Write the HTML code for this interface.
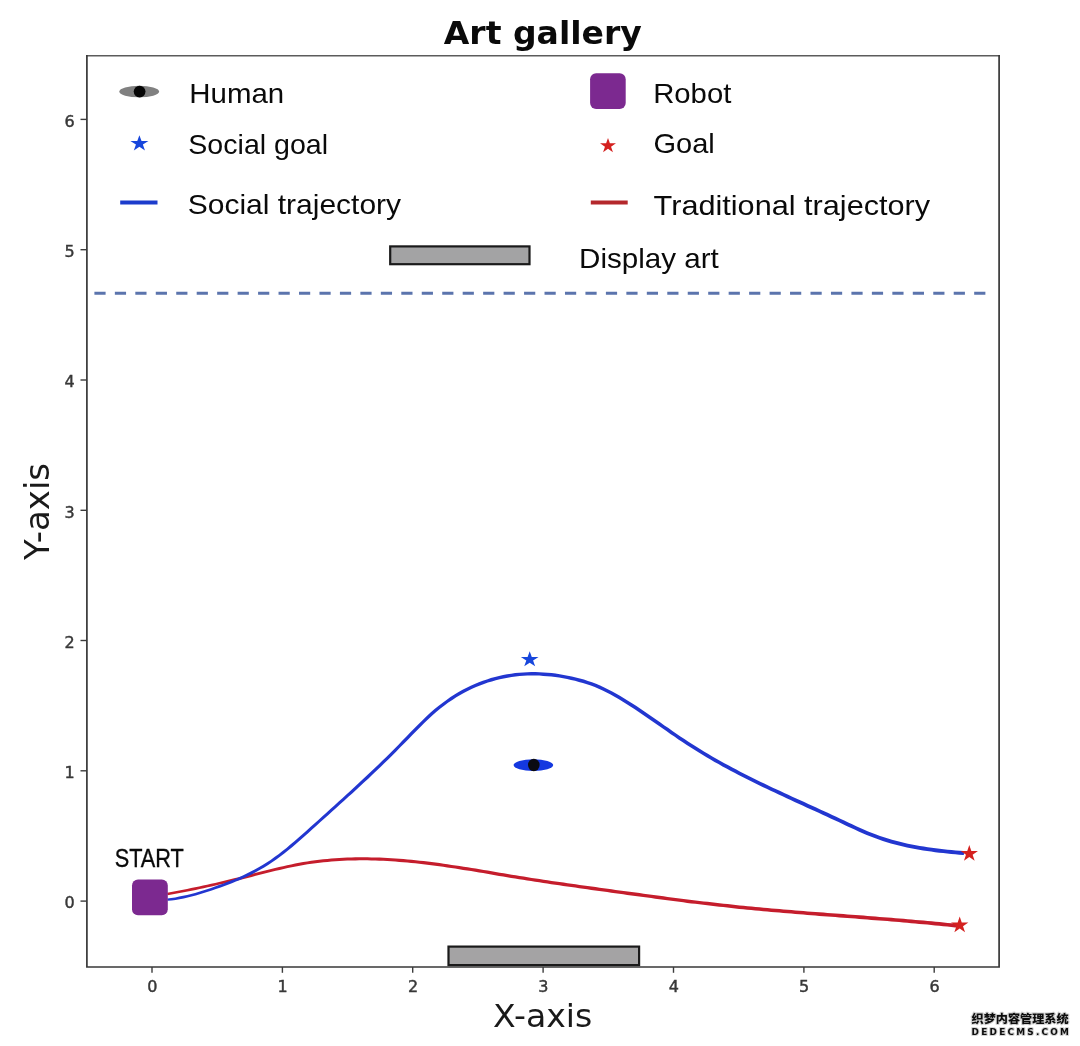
<!DOCTYPE html>
<html lang="en"><head><meta charset="utf-8"><title>Art gallery</title>
<style>
html,body{margin:0;padding:0;background:#fff;}
body{width:1080px;height:1046px;overflow:hidden;position:relative;}
svg{display:block;position:absolute;left:0;top:0;filter:blur(0.4px);}
.dv{font-family:"DejaVu Sans","Liberation Sans",sans-serif;}
.lb{font-family:"Liberation Sans","DejaVu Sans",sans-serif;}
.wm{font-family:"Liberation Sans","Noto Sans CJK SC","WenQuanYi Zen Hei",sans-serif;}
</style></head><body>
<svg width="1080" height="1046" viewBox="0 0 1080 1046">
<rect x="0" y="0" width="1080" height="1046" fill="#ffffff"/>
<text class="dv" x="443.8" y="44.4" font-size="32.5" font-weight="700" fill="#0a0a0a" textLength="198" lengthAdjust="spacingAndGlyphs">Art gallery</text>
<line x1="94.4" y1="293.2" x2="985.6" y2="293.2" stroke="#5b74ad" stroke-width="2.9" stroke-dasharray="11.2 9.26"/>
<rect x="390.2" y="246.4" width="139.3" height="17.8" fill="#a3a3a4" stroke="#1a1a1a" stroke-width="2.2"/>
<rect x="448.5" y="946.6" width="190.6" height="18.5" fill="#a4a3a4" stroke="#1a1a1a" stroke-width="2.2"/>
<path d="M167.6,895.2 L171.6,894.5 L175.6,893.8 L179.6,893.0 L183.7,892.3 L187.7,891.5 L191.7,890.7 L195.7,889.9 L199.7,889.0 L203.7,888.2 L207.7,887.3 L211.7,886.4 L215.7,885.5 L219.7,884.6 L223.7,883.7 L227.7,882.8 L231.7,881.8 L235.7,880.8 L239.7,879.9 L243.7,878.9 L247.7,877.9 L251.7,876.9 L255.8,875.8 L259.8,874.8 L263.8,873.8 L267.7,872.8 L271.7,871.8 L275.7,870.8 L279.7,869.9 L283.7,869.0 L287.7,868.1 L291.7,867.3 L295.7,866.5 L299.7,865.7 L303.6,865.0 L307.6,864.3 L311.6,863.7 L315.6,863.2 L319.6,862.7 L323.6,862.3 L327.5,861.9 L331.5,861.5 L335.5,861.2 L339.5,861.0 L343.5,860.7 L347.5,860.6 L351.4,860.4 L355.4,860.4 L359.4,860.3 L363.4,860.3 L367.4,860.3 L371.4,860.4 L375.4,860.5 L379.3,860.7 L383.3,860.8 L387.3,861.0 L391.3,861.3 L395.3,861.6 L399.3,861.9 L403.3,862.2 L407.3,862.5 L411.2,862.9 L415.2,863.3 L419.2,863.8 L423.2,864.2 L427.2,864.7 L431.2,865.2 L435.2,865.7 L439.2,866.3 L443.2,866.8 L447.2,867.4 L451.2,868.0 L455.2,868.6 L459.2,869.2 L463.1,869.9 L467.1,870.5 L471.1,871.1 L475.1,871.8 L479.1,872.5 L483.1,873.1 L487.1,873.8 L491.1,874.5 L495.1,875.2 L499.1,875.9 L503.1,876.5 L507.1,877.2 L511.1,877.9 L515.1,878.5 L519.1,879.2 L523.1,879.8 L527.1,880.5 L531.1,881.1 L535.1,881.7 L539.2,882.3 L543.2,883.0 L547.2,883.6 L551.2,884.2 L555.2,884.7 L559.2,885.3 L563.2,885.9 L567.2,886.5 L571.2,887.1 L575.2,887.6 L579.2,888.2 L583.2,888.8 L587.2,889.3 L591.2,889.9 L595.2,890.4 L599.2,891.0 L603.2,891.6 L607.2,892.1 L611.2,892.7 L615.2,893.2 L619.2,893.8 L623.2,894.3 L627.2,894.9 L631.2,895.4 L635.2,896.0 L639.2,896.5 L643.2,897.1 L647.2,897.6 L651.2,898.1 L655.2,898.7 L659.2,899.2 L663.2,899.7 L667.2,900.3 L671.2,900.8 L675.2,901.3 L679.2,901.8 L683.2,902.3 L687.2,902.9 L691.2,903.4 L695.2,903.8 L699.2,904.3 L703.2,904.8 L707.2,905.3 L711.2,905.8 L715.2,906.2 L719.2,906.7 L723.2,907.1 L727.2,907.6 L731.2,908.0 L735.2,908.4 L739.2,908.9 L743.2,909.3 L747.2,909.7 L751.2,910.1 L755.2,910.5 L759.2,910.8 L763.2,911.2 L767.2,911.6 L771.2,911.9 L775.2,912.3 L779.2,912.6 L783.3,913.0 L787.3,913.3 L791.3,913.6 L795.3,914.0 L799.3,914.3 L803.3,914.6 L807.3,914.9 L811.3,915.3 L815.3,915.6 L819.3,915.9 L823.3,916.2 L827.3,916.5 L831.3,916.8 L835.3,917.1 L839.3,917.4 L843.3,917.7 L847.3,918.0 L851.3,918.3 L855.3,918.6 L859.3,918.9 L863.3,919.2 L867.3,919.6 L871.3,919.9 L875.3,920.2 L879.3,920.5 L883.3,920.8 L887.3,921.1 L891.3,921.5 L895.3,921.8 L899.2,922.1 L903.2,922.5 L907.2,922.8 L911.2,923.2 L915.2,923.5 L919.2,923.9 L923.2,924.2 L927.2,924.6 L931.2,925.0 L935.2,925.4 L939.2,925.8 L943.2,926.2 L947.2,926.6 L951.2,927.0 L955.2,927.4 L956.8,927.6 L957.2,923.9 L955.6,923.7 L951.6,923.3 L947.6,922.9 L943.6,922.5 L939.6,922.1 L935.6,921.7 L931.6,921.3 L927.6,920.9 L923.6,920.6 L919.6,920.2 L915.6,919.9 L911.6,919.5 L907.6,919.2 L903.6,918.8 L899.6,918.5 L895.5,918.2 L891.5,917.8 L887.5,917.5 L883.5,917.2 L879.5,916.9 L875.5,916.6 L871.5,916.3 L867.5,915.9 L863.5,915.6 L859.5,915.3 L855.5,915.0 L851.5,914.7 L847.5,914.4 L843.5,914.1 L839.5,913.8 L835.5,913.5 L831.5,913.2 L827.5,912.9 L823.5,912.6 L819.5,912.3 L815.5,912.0 L811.5,911.7 L807.5,911.4 L803.5,911.1 L799.5,910.8 L795.5,910.4 L791.5,910.1 L787.5,909.8 L783.5,909.4 L779.6,909.1 L775.6,908.8 L771.6,908.4 L767.6,908.0 L763.6,907.7 L759.6,907.3 L755.6,906.9 L751.6,906.6 L747.6,906.2 L743.6,905.8 L739.6,905.4 L735.6,905.0 L731.6,904.5 L727.6,904.1 L723.6,903.7 L719.6,903.2 L715.6,902.8 L711.6,902.3 L707.6,901.8 L703.6,901.4 L699.6,900.9 L695.6,900.4 L691.6,899.9 L687.6,899.4 L683.6,898.9 L679.6,898.4 L675.6,897.9 L671.6,897.4 L667.6,896.9 L663.6,896.3 L659.6,895.8 L655.6,895.3 L651.6,894.8 L647.6,894.2 L643.6,893.7 L639.6,893.1 L635.6,892.6 L631.6,892.1 L627.6,891.5 L623.6,891.0 L619.6,890.4 L615.6,889.9 L611.6,889.3 L607.6,888.8 L603.6,888.2 L599.6,887.7 L595.6,887.1 L591.6,886.6 L587.6,886.0 L583.6,885.5 L579.6,884.9 L575.6,884.3 L571.6,883.8 L567.6,883.2 L563.6,882.6 L559.6,882.0 L555.6,881.5 L551.6,880.9 L547.6,880.3 L543.6,879.7 L539.6,879.1 L535.7,878.5 L531.7,877.9 L527.7,877.2 L523.7,876.6 L519.7,876.0 L515.7,875.3 L511.7,874.7 L507.7,874.0 L503.7,873.3 L499.7,872.7 L495.7,872.0 L491.7,871.3 L487.7,870.6 L483.7,870.0 L479.7,869.3 L475.7,868.6 L471.7,868.0 L467.7,867.3 L463.7,866.7 L459.6,866.1 L455.6,865.5 L451.6,864.9 L447.6,864.3 L443.6,863.7 L439.6,863.1 L435.6,862.6 L431.6,862.1 L427.6,861.6 L423.6,861.1 L419.6,860.7 L415.6,860.2 L411.6,859.8 L407.5,859.4 L403.5,859.1 L399.5,858.8 L395.5,858.5 L391.5,858.2 L387.5,858.0 L383.5,857.8 L379.5,857.6 L375.4,857.5 L371.4,857.4 L367.4,857.3 L363.4,857.3 L359.4,857.3 L355.4,857.3 L351.4,857.4 L347.3,857.6 L343.3,857.7 L339.3,857.9 L335.3,858.2 L331.3,858.5 L327.3,858.9 L323.2,859.3 L319.2,859.8 L315.2,860.3 L311.2,860.8 L307.2,861.4 L303.2,862.1 L299.1,862.8 L295.1,863.6 L291.1,864.4 L287.1,865.3 L283.1,866.2 L279.1,867.1 L275.1,868.0 L271.1,869.0 L267.1,870.0 L263.0,871.0 L259.0,872.1 L255.0,873.1 L251.1,874.1 L247.1,875.1 L243.1,876.2 L239.1,877.2 L235.1,878.1 L231.1,879.1 L227.1,880.1 L223.1,881.0 L219.1,882.0 L215.1,882.9 L211.1,883.8 L207.1,884.7 L203.1,885.5 L199.1,886.4 L195.1,887.3 L191.1,888.1 L187.1,888.9 L183.1,889.7 L179.2,890.5 L175.2,891.3 L171.2,892.1 L167.2,892.8Z" fill="#c51d2c"/>
<path d="M167.5,900.8 L171.6,900.4 L175.6,899.9 L179.6,899.2 L183.7,898.4 L187.7,897.5 L191.7,896.5 L195.8,895.4 L199.8,894.3 L203.8,893.1 L207.8,891.8 L211.8,890.5 L215.9,889.1 L219.9,887.7 L223.9,886.3 L227.9,884.8 L231.9,883.2 L235.9,881.6 L240.0,879.9 L244.0,878.1 L248.0,876.2 L252.1,874.2 L256.1,872.0 L260.1,869.8 L264.2,867.4 L268.2,864.9 L272.2,862.3 L276.3,859.5 L280.3,856.5 L284.3,853.4 L288.3,850.2 L292.4,846.9 L296.4,843.5 L300.4,840.0 L304.4,836.5 L308.4,832.9 L312.4,829.3 L316.4,825.7 L320.4,822.1 L324.4,818.5 L328.4,814.9 L332.4,811.3 L336.4,807.7 L340.4,804.1 L344.4,800.5 L348.4,796.8 L352.5,793.2 L356.5,789.5 L360.5,785.8 L364.5,782.1 L368.5,778.4 L372.5,774.6 L376.5,770.8 L380.5,766.9 L384.5,763.1 L388.5,759.2 L392.5,755.2 L396.5,751.2 L400.5,747.1 L404.6,743.1 L408.6,738.9 L412.6,734.8 L416.6,730.7 L420.6,726.7 L424.5,722.7 L428.5,718.9 L432.5,715.2 L436.5,711.8 L440.4,708.5 L444.4,705.5 L448.3,702.6 L452.3,699.9 L456.3,697.3 L460.2,695.0 L464.2,692.8 L468.1,690.7 L472.1,688.8 L476.1,687.0 L480.0,685.4 L484.0,683.9 L487.9,682.6 L491.9,681.4 L495.8,680.3 L499.8,679.3 L503.7,678.4 L507.7,677.7 L511.6,677.0 L515.6,676.5 L519.6,676.1 L523.5,675.8 L527.5,675.6 L531.4,675.5 L535.4,675.5 L539.3,675.6 L543.3,675.9 L547.2,676.2 L551.2,676.6 L555.2,677.1 L559.1,677.6 L563.1,678.3 L567.1,679.1 L571.0,679.9 L575.0,680.8 L578.9,681.9 L582.9,683.0 L586.9,684.2 L590.8,685.6 L594.8,687.1 L598.7,688.7 L602.6,690.5 L606.6,692.5 L610.6,694.6 L614.5,696.8 L618.5,699.1 L622.5,701.5 L626.5,703.9 L630.4,706.5 L634.4,709.1 L638.4,711.8 L642.4,714.5 L646.4,717.2 L650.4,719.9 L654.4,722.7 L658.4,725.5 L662.4,728.3 L666.4,731.1 L670.4,733.9 L674.4,736.6 L678.4,739.4 L682.4,742.1 L686.4,744.7 L690.4,747.3 L694.4,749.8 L698.4,752.3 L702.5,754.8 L706.5,757.2 L710.5,759.5 L714.5,761.9 L718.5,764.1 L722.5,766.4 L726.5,768.6 L730.5,770.7 L734.5,772.8 L738.6,774.9 L742.6,777.0 L746.6,779.0 L750.6,781.0 L754.6,783.0 L758.6,785.0 L762.6,786.9 L766.6,788.8 L770.6,790.7 L774.6,792.6 L778.6,794.5 L782.6,796.3 L786.6,798.2 L790.6,800.0 L794.6,801.9 L798.6,803.7 L802.6,805.5 L806.6,807.4 L810.6,809.2 L814.6,811.0 L818.6,812.8 L822.6,814.7 L826.6,816.5 L830.6,818.4 L834.6,820.2 L838.6,822.1 L842.6,824.0 L846.6,825.9 L850.6,827.8 L854.6,829.6 L858.6,831.4 L862.6,833.2 L866.7,834.9 L870.7,836.6 L874.7,838.1 L878.8,839.6 L882.8,840.9 L886.8,842.2 L890.9,843.4 L894.9,844.5 L898.9,845.6 L903.0,846.5 L907.0,847.4 L911.0,848.3 L915.0,849.1 L919.1,849.8 L923.1,850.4 L927.1,851.1 L931.1,851.6 L935.2,852.2 L939.2,852.7 L943.2,853.1 L947.2,853.5 L951.2,853.9 L955.2,854.3 L959.2,854.7 L963.2,855.0 L963.8,855.1 L964.2,851.2 L963.6,851.1 L959.6,850.8 L955.6,850.4 L951.6,850.1 L947.6,849.7 L943.6,849.3 L939.6,848.8 L935.6,848.3 L931.7,847.8 L927.7,847.2 L923.7,846.6 L919.7,846.0 L915.8,845.3 L911.8,844.5 L907.8,843.7 L903.8,842.8 L899.9,841.8 L895.9,840.8 L891.9,839.7 L888.0,838.6 L884.0,837.3 L880.0,836.0 L876.1,834.5 L872.1,833.0 L868.1,831.4 L864.2,829.7 L860.2,828.0 L856.2,826.2 L852.2,824.3 L848.2,822.5 L844.2,820.6 L840.2,818.7 L836.2,816.8 L832.2,815.0 L828.2,813.1 L824.2,811.3 L820.2,809.4 L816.2,807.6 L812.2,805.8 L808.2,803.9 L804.2,802.1 L800.2,800.3 L796.2,798.5 L792.2,796.7 L788.2,794.8 L784.2,793.0 L780.2,791.1 L776.2,789.3 L772.2,787.4 L768.2,785.5 L764.2,783.6 L760.2,781.7 L756.2,779.7 L752.2,777.7 L748.2,775.7 L744.2,773.7 L740.2,771.7 L736.3,769.6 L732.3,767.5 L728.3,765.3 L724.3,763.2 L720.3,760.9 L716.3,758.7 L712.3,756.4 L708.3,754.1 L704.3,751.7 L700.4,749.3 L696.4,746.8 L692.4,744.3 L688.4,741.7 L684.4,739.0 L680.4,736.4 L676.4,733.7 L672.4,730.9 L668.4,728.1 L664.4,725.4 L660.4,722.6 L656.4,719.8 L652.4,717.0 L648.4,714.2 L644.4,711.5 L640.4,708.8 L636.4,706.1 L632.4,703.5 L628.3,701.0 L624.3,698.5 L620.3,696.0 L616.3,693.7 L612.2,691.5 L608.2,689.4 L604.2,687.4 L600.1,685.5 L596.0,683.8 L592.0,682.3 L587.9,680.9 L583.9,679.6 L579.9,678.5 L575.8,677.5 L571.8,676.5 L567.7,675.7 L563.7,674.9 L559.7,674.2 L555.6,673.6 L551.6,673.1 L547.6,672.7 L543.5,672.4 L539.5,672.2 L535.4,672.1 L531.4,672.1 L527.3,672.2 L523.3,672.4 L519.2,672.7 L515.2,673.1 L511.2,673.7 L507.1,674.3 L503.1,675.1 L499.0,676.0 L495.0,677.0 L490.9,678.1 L486.9,679.4 L482.8,680.8 L478.8,682.3 L474.7,684.0 L470.7,685.8 L466.7,687.7 L462.6,689.8 L458.6,692.1 L454.5,694.5 L450.5,697.1 L446.5,699.9 L442.4,702.9 L438.4,706.0 L434.3,709.3 L430.3,712.8 L426.3,716.5 L422.3,720.4 L418.2,724.4 L414.2,728.4 L410.2,732.6 L406.2,736.7 L402.2,740.8 L398.3,744.9 L394.3,748.9 L390.3,752.9 L386.3,756.9 L382.3,760.8 L378.3,764.7 L374.3,768.5 L370.3,772.3 L366.3,776.1 L362.3,779.8 L358.3,783.5 L354.3,787.2 L350.3,790.9 L346.4,794.5 L342.4,798.2 L338.4,801.8 L334.4,805.4 L330.4,809.0 L326.4,812.7 L322.4,816.3 L318.4,819.9 L314.4,823.5 L310.4,827.1 L306.4,830.7 L302.4,834.3 L298.4,837.8 L294.4,841.2 L290.4,844.6 L286.5,847.9 L282.5,851.1 L278.5,854.2 L274.5,857.1 L270.6,859.9 L266.6,862.5 L262.6,864.9 L258.7,867.3 L254.7,869.5 L250.7,871.6 L246.8,873.6 L242.8,875.5 L238.8,877.2 L234.9,879.0 L230.9,880.6 L226.9,882.1 L222.9,883.7 L218.9,885.1 L214.9,886.5 L211.0,887.9 L207.0,889.2 L203.0,890.5 L199.0,891.7 L195.0,892.9 L191.1,893.9 L187.1,894.9 L183.1,895.8 L179.2,896.6 L175.2,897.4 L171.2,897.9 L167.3,898.4Z" fill="#2236d0"/>
<ellipse cx="533.4" cy="765.1" rx="19.8" ry="5.9" fill="#1438e0"/>
<ellipse cx="533.8" cy="765" rx="5.8" ry="6.2" fill="#0b0b12"/>
<polygon points="529.70,651.30 531.79,657.04 538.54,657.04 533.08,660.58 535.17,666.31 529.70,662.77 524.23,666.31 526.32,660.58 520.86,657.04 527.61,657.04" fill="#1746dc"/>
<polygon points="969.30,844.90 971.34,850.91 977.95,850.91 972.61,854.63 974.65,860.64 969.30,856.92 963.95,860.64 965.99,854.63 960.65,850.91 967.26,850.91" fill="#d4211f"/>
<polygon points="959.70,916.60 961.74,922.61 968.35,922.61 963.01,926.33 965.05,932.34 959.70,928.62 954.35,932.34 956.39,926.33 951.05,922.61 957.66,922.61" fill="#d4211f"/>
<rect x="132" y="879.4" width="35.8" height="35.8" rx="6" ry="6" fill="#7c2990"/>
<text class="lb" x="114.7" y="866.7" font-size="25.8" fill="#0a0a0a" stroke="#0a0a0a" stroke-width="0.35" textLength="69.2" lengthAdjust="spacingAndGlyphs">START</text>
<line x1="86.10000000000001" y1="55.800000000000004" x2="999.9" y2="55.800000000000004" stroke="#5c5c5c" stroke-width="1.6"/>
<path d="M86.9,55.0 L86.9,967.0 L999.1,967.0 L999.1,55.0" fill="none" stroke="#383838" stroke-width="1.7" stroke-linejoin="miter"/>
<line x1="152.0" y1="967.0" x2="152.0" y2="972.8" stroke="#3c3c3c" stroke-width="1.4"/>
<text class="dv" x="152.3" y="991.9" font-size="16" fill="#383838" stroke="#383838" stroke-width="0.45" text-anchor="middle">0</text>
<line x1="80.5" y1="901.1" x2="86.9" y2="901.1" stroke="#3c3c3c" stroke-width="1.4"/>
<text class="dv" x="74.7" y="908.3" font-size="16" fill="#383838" stroke="#383838" stroke-width="0.45" text-anchor="end">0</text>
<line x1="282.4" y1="967.0" x2="282.4" y2="972.8" stroke="#3c3c3c" stroke-width="1.4"/>
<text class="dv" x="282.7" y="991.9" font-size="16" fill="#383838" stroke="#383838" stroke-width="0.45" text-anchor="middle">1</text>
<line x1="80.5" y1="770.8" x2="86.9" y2="770.8" stroke="#3c3c3c" stroke-width="1.4"/>
<text class="dv" x="74.7" y="778.0" font-size="16" fill="#383838" stroke="#383838" stroke-width="0.45" text-anchor="end">1</text>
<line x1="412.7" y1="967.0" x2="412.7" y2="972.8" stroke="#3c3c3c" stroke-width="1.4"/>
<text class="dv" x="413.0" y="991.9" font-size="16" fill="#383838" stroke="#383838" stroke-width="0.45" text-anchor="middle">2</text>
<line x1="80.5" y1="640.5" x2="86.9" y2="640.5" stroke="#3c3c3c" stroke-width="1.4"/>
<text class="dv" x="74.7" y="647.7" font-size="16" fill="#383838" stroke="#383838" stroke-width="0.45" text-anchor="end">2</text>
<line x1="543.1" y1="967.0" x2="543.1" y2="972.8" stroke="#3c3c3c" stroke-width="1.4"/>
<text class="dv" x="543.4" y="991.9" font-size="16" fill="#383838" stroke="#383838" stroke-width="0.45" text-anchor="middle">3</text>
<line x1="80.5" y1="510.3" x2="86.9" y2="510.3" stroke="#3c3c3c" stroke-width="1.4"/>
<text class="dv" x="74.7" y="517.5" font-size="16" fill="#383838" stroke="#383838" stroke-width="0.45" text-anchor="end">3</text>
<line x1="673.5" y1="967.0" x2="673.5" y2="972.8" stroke="#3c3c3c" stroke-width="1.4"/>
<text class="dv" x="673.8" y="991.9" font-size="16" fill="#383838" stroke="#383838" stroke-width="0.45" text-anchor="middle">4</text>
<line x1="80.5" y1="380.0" x2="86.9" y2="380.0" stroke="#3c3c3c" stroke-width="1.4"/>
<text class="dv" x="74.7" y="387.2" font-size="16" fill="#383838" stroke="#383838" stroke-width="0.45" text-anchor="end">4</text>
<line x1="803.9" y1="967.0" x2="803.9" y2="972.8" stroke="#3c3c3c" stroke-width="1.4"/>
<text class="dv" x="804.1" y="991.9" font-size="16" fill="#383838" stroke="#383838" stroke-width="0.45" text-anchor="middle">5</text>
<line x1="80.5" y1="249.7" x2="86.9" y2="249.7" stroke="#3c3c3c" stroke-width="1.4"/>
<text class="dv" x="74.7" y="256.9" font-size="16" fill="#383838" stroke="#383838" stroke-width="0.45" text-anchor="end">5</text>
<line x1="934.2" y1="967.0" x2="934.2" y2="972.8" stroke="#3c3c3c" stroke-width="1.4"/>
<text class="dv" x="934.5" y="991.9" font-size="16" fill="#383838" stroke="#383838" stroke-width="0.45" text-anchor="middle">6</text>
<line x1="80.5" y1="119.4" x2="86.9" y2="119.4" stroke="#3c3c3c" stroke-width="1.4"/>
<text class="dv" x="74.7" y="126.6" font-size="16" fill="#383838" stroke="#383838" stroke-width="0.45" text-anchor="end">6</text>
<text class="dv" x="492.9" y="1026.6" font-size="32.5" fill="#1a1a1a" textLength="99.4" lengthAdjust="spacingAndGlyphs">X-axis</text>
<text class="dv" transform="translate(49.2 560.1) rotate(-90)" font-size="33.8" fill="#1a1a1a" textLength="97.2" lengthAdjust="spacingAndGlyphs">Y-axis</text>
<ellipse cx="139.2" cy="91.6" rx="19.9" ry="5.75" fill="#808080"/>
<circle cx="139.6" cy="91.6" r="5.9" fill="#050505"/>
<polygon points="139.40,135.20 141.53,141.00 148.44,141.00 142.85,144.59 144.98,150.40 139.40,146.81 133.82,150.40 135.95,144.59 130.36,141.00 137.27,141.00" fill="#1746dc"/>
<line x1="120.2" y1="202.4" x2="157.5" y2="202.4" stroke="#1c3ccc" stroke-width="4"/>
<rect x="590.1" y="73.2" width="35.6" height="35.7" rx="6" ry="6" fill="#7c2990"/>
<polygon points="608.00,137.90 609.89,143.36 615.99,143.36 611.05,146.73 612.94,152.19 608.00,148.82 603.06,152.19 604.95,146.73 600.01,143.36 606.11,143.36" fill="#d4211f"/>
<line x1="590.8" y1="202.4" x2="627.7" y2="202.4" stroke="#b4282c" stroke-width="4"/>
<text class="lb" x="189.36" y="103.3" font-size="28.0" fill="#0a0a0a" textLength="94.86" lengthAdjust="spacingAndGlyphs">Human</text>
<text class="lb" x="188.29" y="153.5" font-size="28.0" fill="#0a0a0a" textLength="139.83" lengthAdjust="spacingAndGlyphs">Social goal</text>
<text class="lb" x="187.69" y="214.0" font-size="28.0" fill="#0a0a0a" textLength="213.42" lengthAdjust="spacingAndGlyphs">Social trajectory</text>
<text class="lb" x="653.19" y="103.2" font-size="28.0" fill="#0a0a0a" textLength="78.12" lengthAdjust="spacingAndGlyphs">Robot</text>
<text class="lb" x="653.45" y="152.9" font-size="28.0" fill="#0a0a0a" textLength="61.33" lengthAdjust="spacingAndGlyphs">Goal</text>
<text class="lb" x="653.60" y="215.4" font-size="28.0" fill="#0a0a0a" textLength="276.50" lengthAdjust="spacingAndGlyphs">Traditional trajectory</text>
<text class="lb" x="579.08" y="267.5" font-size="28.0" fill="#0a0a0a" textLength="139.72" lengthAdjust="spacingAndGlyphs">Display art</text>
<g font-weight="900" fill="#0c0c0c" stroke="#d4d4d4" stroke-width="2.2" paint-order="stroke" stroke-linejoin="round">
<text class="wm" x="971.6" y="1023.4" font-size="11.6" textLength="97" lengthAdjust="spacingAndGlyphs">织梦内容管理系统</text>
<text class="dv" x="971.6" y="1035.1" font-size="8.9" font-weight="700" textLength="97.3" lengthAdjust="spacing">DEDECMS.COM</text>
</g>
</svg></body></html>
